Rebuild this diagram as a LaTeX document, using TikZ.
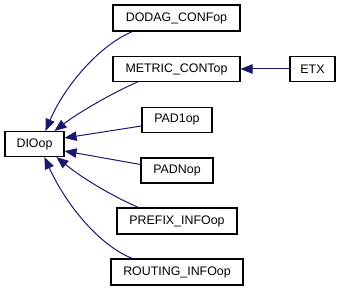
\documentclass[tikz,border=0pt]{standalone}
\usepackage{fontspec}
\setmainfont{Liberation Sans}
\usetikzlibrary{arrows.meta,calc}
\definecolor{edgeblue}{HTML}{191970}
\tikzset{
  cls/.style={draw=black, line width=1.1pt, fill=white, inner sep=0pt,
    minimum height=25pt, font=\fontsize{12.4pt}{14pt}\selectfont},
  inh/.style={draw=edgeblue, line width=1pt,
    -{Triangle[length=12pt,width=9.5pt,fill=edgeblue]}}
}
\begin{document}
\begin{tikzpicture}[x=1pt,y=-1pt]
\useasboundingbox (0,0) rectangle (341,291);
% class boxes
\node[cls, minimum width=127pt, minimum height=26pt] (dodag)   at (176.5,18)  {DODAG\_CONFop};
\node[cls, minimum width=127pt] (metric)  at (176.5,69)  {METRIC\_CONTop};
\node[cls, minimum width=45pt]  (etx)     at (312.5,69)  {ETX};
\node[cls, minimum width=70pt]  (padone)  at (177,120)   {PAD1op};
\node[cls, minimum width=59pt]  (dio)     at (34.5,144)  {DIOop};
\node[cls, minimum width=72pt]  (padn)    at (177,170.5) {PADNop};
\node[cls, minimum width=120pt, minimum height=26pt] (prefix)  at (177,221)   {PREFIX\_INFOop};
\node[cls, minimum width=132pt, minimum height=26pt] (routing) at (177,272)   {ROUTING\_INFOop};
% inheritance edges
\draw[inh] ($(dodag.south west)+(20,0)$) .. controls (100,45) and (65,85) .. ($(dio.north west)+(41,0)$);
\draw[inh] ($(metric.south west)+(25,0)$) .. controls (112,93) and (78,113) .. ($(dio.north west)+(50,0)$);
\draw[inh] ($(padone.west)+(0,6)$) -- ($(dio.east)+(0,-6)$);
\draw[inh] ($(padn.west)+(0,-6)$) -- ($(dio.east)+(0,7)$);
\draw[inh] ($(prefix.north west)+(22,0)$) .. controls (112,196) and (82,178) .. ($(dio.south west)+(52,0)$);
\draw[inh] ($(routing.north west)+(22,0)$) .. controls (100,246) and (66,205) .. ($(dio.south west)+(40,0)$);
\draw[inh] (etx.west) -- (metric.east);
\end{tikzpicture}
\end{document}
